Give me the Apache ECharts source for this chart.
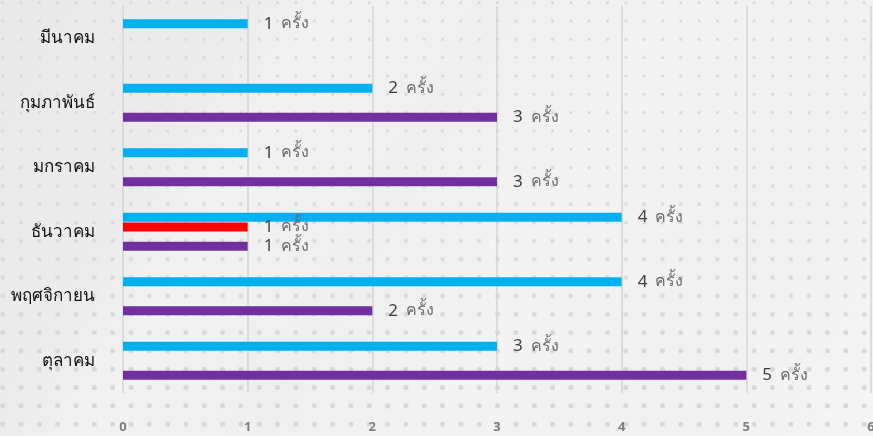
<!DOCTYPE html>
<html>
<head>
<meta charset="utf-8">
<script src="https://cdn.jsdelivr.net/npm/echarts@6/dist/echarts.min.js"></script>
<style>
  html, body { margin: 0; padding: 0; }
  body {
    width: 873px; height: 436px; overflow: hidden; position: relative;
    background-color: #ececec;
    background-image: linear-gradient(120deg, #e9e9e9 0%, #ececec 22%, #f2f2f2 30%, #efefef 45%, #f3f3f3 60%, #f1f1f1 80%, #f5f5f5 100%);
  }
  .dots {
    position: absolute; left: 0; top: 0; width: 873px; height: 436px;
    background-image: radial-gradient(circle, #dadada 1.3px, transparent 1.8px);
    background-size: 18.33px 18.33px;
    background-position: -6.5px -6.5px;
  }
  .dots.big {
    background-image: radial-gradient(circle, #d6d6d6 2.4px, transparent 2.9px);
    -webkit-mask-image: linear-gradient(to bottom, transparent 35%, rgba(0,0,0,0.9) 85%);
    mask-image: linear-gradient(to bottom, transparent 35%, rgba(0,0,0,0.9) 85%);
  }
  #chart { position: absolute; left: 0; top: 0; width: 873px; height: 436px; }
</style>
</head>
<body>
<div class="dots"></div>
<div class="dots big"></div>
<div id="chart"></div>
<script>
// เดือน (ล่างขึ้นบน)
const months = ['ตุลาคม', 'พฤศจิกายน', 'ธันวาคม', 'มกราคม', 'กุมภาพันธ์', 'มีนาคม']
// จำนวนครั้ง
const blueValues = [3, 4, 4, 1, 2, 1]
const redValues = [null, null, 1, null, null, null]
const emptyValues = [null, null, null, null, null, null]
const purpleValues = [5, 2, 1, 3, 3, null]
const xTicks = [0, 1, 2, 3, 4, 5, 6]

const chart = echarts.init(document.getElementById('chart'))

const valueLabel = {
  show: true,
  position: 'right',
  distance: 16,
  formatter: (p) => '{n|' + p.value + '}{u|ครั้ง}',
  rich: {
    n: { fontSize: 17, color: '#404040', fontFamily: 'Noto Sans, sans-serif', padding: [0, 8, 0, 0] },
    u: { fontSize: 16, color: '#6b6b6b', fontFamily: 'Noto Sans, sans-serif' }
  }
}

const makeSeries = (data, color) => ({
  type: 'bar',
  data: data,
  barWidth: 9,
  barGap: '8%',
  itemStyle: { color: color },
  label: valueLabel,
  silent: true
})

chart.setOption({
  animation: false,
  grid: { left: 123, right: 2, top: 6, bottom: 43, containLabel: false, outerBoundsMode: 'none' },
  xAxis: {
    type: 'value',
    min: xTicks[0],
    max: xTicks[xTicks.length - 1],
    interval: 1,
    axisLine: { show: false },
    axisTick: { show: false },
    splitLine: { lineStyle: { color: '#d4d4d4', width: 1.5 } },
    axisLabel: {
      margin: 28,
      color: '#7f7f7f',
      fontWeight: 'bold',
      fontSize: 13,
      fontFamily: 'Noto Sans, sans-serif'
    }
  },
  yAxis: {
    type: 'category',
    data: months,
    axisLine: { show: false },
    axisTick: { show: false },
    axisLabel: {
      margin: 28,
      color: '#111111',
      fontSize: 17,
      fontFamily: 'Noto Sans, sans-serif'
    }
  },
  series: [
    makeSeries(blueValues, '#00b0f0'),
    makeSeries(redValues, '#ff0000'),
    makeSeries(emptyValues, '#a5a5a5'),
    makeSeries(purpleValues, '#7030a0')
  ]
})
</script>
</body>
</html>
